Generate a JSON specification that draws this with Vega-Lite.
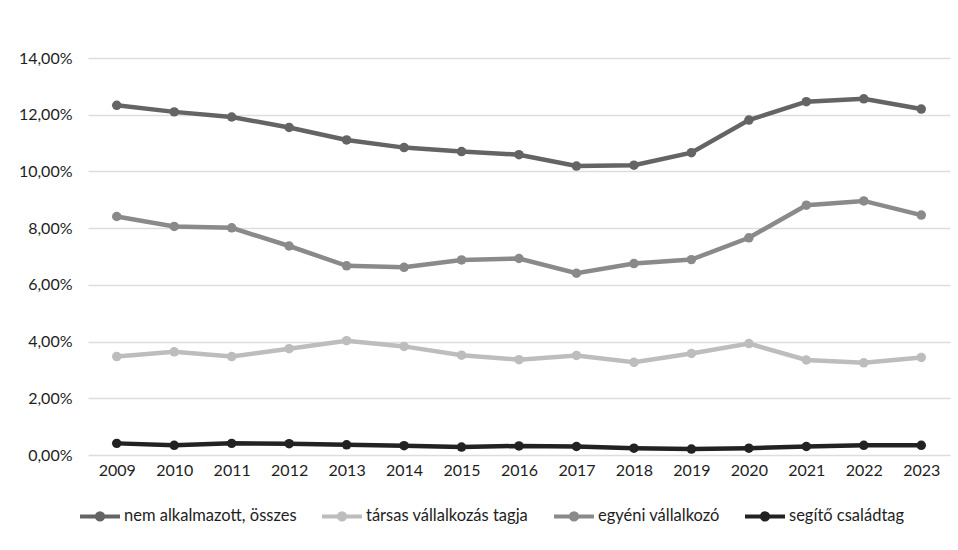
{
  "$schema": "https://vega.github.io/schema/vega-lite/v6.json",
  "width": 862,
  "height": 397,
  "autosize": "none",
  "padding": {"left": 88, "top": 58, "right": 8, "bottom": 95},
  "background": "white",
  "config": {
    "locale": {"number": {"decimal": ",", "thousands": " ", "grouping": [3], "currency": ["", " Ft"]}},
    "view": {"stroke": null},
    "font": "Lato"
  },
  "data": {
    "values": [
      {"year": "2009", "series": "nem alkalmazott, összes", "value": 0.1233},
      {"year": "2010", "series": "nem alkalmazott, összes", "value": 0.1210},
      {"year": "2011", "series": "nem alkalmazott, összes", "value": 0.1192},
      {"year": "2012", "series": "nem alkalmazott, összes", "value": 0.1155},
      {"year": "2013", "series": "nem alkalmazott, összes", "value": 0.1111},
      {"year": "2014", "series": "nem alkalmazott, összes", "value": 0.1084},
      {"year": "2015", "series": "nem alkalmazott, összes", "value": 0.1070},
      {"year": "2016", "series": "nem alkalmazott, összes", "value": 0.1059},
      {"year": "2017", "series": "nem alkalmazott, összes", "value": 0.1019},
      {"year": "2018", "series": "nem alkalmazott, összes", "value": 0.1022},
      {"year": "2019", "series": "nem alkalmazott, összes", "value": 0.1066},
      {"year": "2020", "series": "nem alkalmazott, összes", "value": 0.1181},
      {"year": "2021", "series": "nem alkalmazott, összes", "value": 0.1246},
      {"year": "2022", "series": "nem alkalmazott, összes", "value": 0.1256},
      {"year": "2023", "series": "nem alkalmazott, összes", "value": 0.1220},
      {"year": "2009", "series": "társas vállalkozás tagja", "value": 0.0347},
      {"year": "2010", "series": "társas vállalkozás tagja", "value": 0.0364},
      {"year": "2011", "series": "társas vállalkozás tagja", "value": 0.0347},
      {"year": "2012", "series": "társas vállalkozás tagja", "value": 0.0375},
      {"year": "2013", "series": "társas vállalkozás tagja", "value": 0.0403},
      {"year": "2014", "series": "társas vállalkozás tagja", "value": 0.0383},
      {"year": "2015", "series": "társas vállalkozás tagja", "value": 0.0352},
      {"year": "2016", "series": "társas vállalkozás tagja", "value": 0.0336},
      {"year": "2017", "series": "társas vállalkozás tagja", "value": 0.0351},
      {"year": "2018", "series": "társas vállalkozás tagja", "value": 0.0327},
      {"year": "2019", "series": "társas vállalkozás tagja", "value": 0.0358},
      {"year": "2020", "series": "társas vállalkozás tagja", "value": 0.0393},
      {"year": "2021", "series": "társas vállalkozás tagja", "value": 0.0335},
      {"year": "2022", "series": "társas vállalkozás tagja", "value": 0.0325},
      {"year": "2023", "series": "társas vállalkozás tagja", "value": 0.0344},
      {"year": "2009", "series": "egyéni vállalkozó", "value": 0.0841},
      {"year": "2010", "series": "egyéni vállalkozó", "value": 0.0806},
      {"year": "2011", "series": "egyéni vállalkozó", "value": 0.0801},
      {"year": "2012", "series": "egyéni vállalkozó", "value": 0.0737},
      {"year": "2013", "series": "egyéni vállalkozó", "value": 0.0667},
      {"year": "2014", "series": "egyéni vállalkozó", "value": 0.0662},
      {"year": "2015", "series": "egyéni vállalkozó", "value": 0.0688},
      {"year": "2016", "series": "egyéni vállalkozó", "value": 0.0693},
      {"year": "2017", "series": "egyéni vállalkozó", "value": 0.0641},
      {"year": "2018", "series": "egyéni vállalkozó", "value": 0.0675},
      {"year": "2019", "series": "egyéni vállalkozó", "value": 0.0689},
      {"year": "2020", "series": "egyéni vállalkozó", "value": 0.0766},
      {"year": "2021", "series": "egyéni vállalkozó", "value": 0.0881},
      {"year": "2022", "series": "egyéni vállalkozó", "value": 0.0896},
      {"year": "2023", "series": "egyéni vállalkozó", "value": 0.0846},
      {"year": "2009", "series": "segítő családtag", "value": 0.0041},
      {"year": "2010", "series": "segítő családtag", "value": 0.0034},
      {"year": "2011", "series": "segítő családtag", "value": 0.0041},
      {"year": "2012", "series": "segítő családtag", "value": 0.0040},
      {"year": "2013", "series": "segítő családtag", "value": 0.0036},
      {"year": "2014", "series": "segítő családtag", "value": 0.0033},
      {"year": "2015", "series": "segítő családtag", "value": 0.0028},
      {"year": "2016", "series": "segítő családtag", "value": 0.0032},
      {"year": "2017", "series": "segítő családtag", "value": 0.0030},
      {"year": "2018", "series": "segítő családtag", "value": 0.0024},
      {"year": "2019", "series": "segítő családtag", "value": 0.0021},
      {"year": "2020", "series": "segítő családtag", "value": 0.0024},
      {"year": "2021", "series": "segítő családtag", "value": 0.0030},
      {"year": "2022", "series": "segítő családtag", "value": 0.0034},
      {"year": "2023", "series": "segítő családtag", "value": 0.0034}
    ]
  },
  "encoding": {
    "x": {
      "field": "year", "type": "ordinal",
      "scale": {"type": "point", "padding": 0.5},
      "axis": {"title": null, "labelAngle": 0, "domain": false, "ticks": false, "labelFontSize": 16, "labelColor": "#1e1e1e", "labelPadding": 7, "grid": false}
    },
    "y": {
      "field": "value", "type": "quantitative",
      "scale": {"domain": [0, 0.14]},
      "axis": {"title": null, "values": [0, 0.02, 0.04, 0.06, 0.08, 0.1, 0.12, 0.14], "format": ".2%", "domain": false, "ticks": false, "labelFontSize": 16, "labelColor": "#1e1e1e", "labelPadding": 16, "gridColor": "#dddddd", "gridWidth": 1.5}
    },
    "color": {
      "field": "series", "type": "nominal",
      "scale": {
        "domain": ["nem alkalmazott, összes", "társas vállalkozás tagja", "egyéni vállalkozó", "segítő családtag"],
        "range": ["#646464", "#bdbdbd", "#8a8a8a", "#222222"]
      },
      "legend": {
        "title": null, "orient": "none", "direction": "horizontal",
        "legendX": -10, "legendY": 436,
        "symbolType": "M-1,0H-0.16A0.16,0.16 0 1 1 0.16,0A0.16,0.16 0 1 1 -0.16,0M0.16,0H1",
        "symbolSize": 1600, "symbolStrokeWidth": 4, "symbolOpacity": 1,
        "labelFontSize": 16.5, "labelColor": "#1e1e1e", "labelOffset": 2, "labelLimit": 400,
        "columnPadding": 17
      }
    }
  },
  "layer": [
    {"mark": {"type": "line", "strokeWidth": 4.5}},
    {"mark": {"type": "point", "filled": true, "size": 90, "opacity": 1}}
  ]
}
